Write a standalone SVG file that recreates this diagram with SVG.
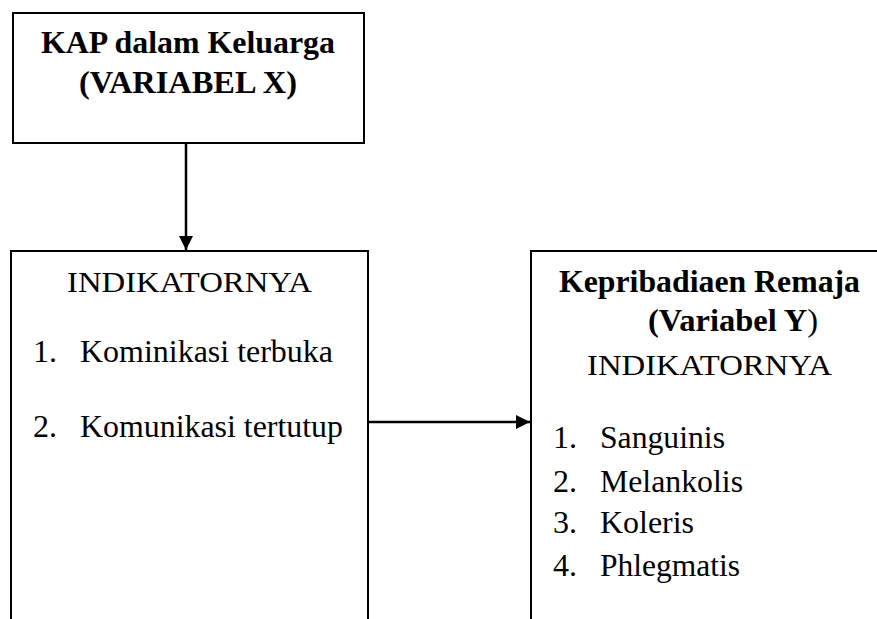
<svg xmlns="http://www.w3.org/2000/svg" width="877" height="619" viewBox="0 0 877 619">
<style>
.box{fill:#fff;stroke:#000;stroke-width:2}
text{font-family:'Liberation Serif','Times New Roman',Times,serif;fill:#000;font-size:32px}
.b{font-weight:bold}
.h{font-size:30px}
.line{stroke:#000;stroke-width:2.5;fill:none}
</style>
<defs>
<marker id="ah" viewBox="0 0 10 10" refX="10" refY="5" markerUnits="userSpaceOnUse" markerWidth="15" markerHeight="14" orient="auto">
<path d="M0,0 L10,5 L0,10 Z" fill="#000"/>
</marker>
</defs>
<rect width="877" height="619" fill="#fff"/>
<g id="connectors">
<line class="line" x1="186" y1="143" x2="186" y2="250" marker-end="url(#ah)"/>
<line class="line" x1="363" y1="422" x2="530" y2="422" marker-end="url(#ah)"/>
</g>
<g id="node-x">
<rect class="box" x="13" y="13" width="351" height="130"/>
<text class="b" x="41" y="53" textLength="294" lengthAdjust="spacingAndGlyphs">KAP dalam Keluarga</text>
<text class="b" x="79" y="93" textLength="218" lengthAdjust="spacingAndGlyphs">(VARIABEL X)</text>
</g>
<g id="node-x-indicators">
<rect class="box" x="11" y="251" width="357" height="380"/>
<text class="h" x="67" y="292" textLength="245" lengthAdjust="spacingAndGlyphs">INDIKATORNYA</text>
<text x="33" y="362">1.</text>
<text x="80" y="362" textLength="253" lengthAdjust="spacingAndGlyphs">Kominikasi terbuka</text>
<text x="33" y="437">2.</text>
<text x="80" y="437" textLength="263" lengthAdjust="spacingAndGlyphs">Komunikasi tertutup</text>
</g>
<g id="node-y">
<rect class="box" x="531" y="251" width="360" height="380"/>
<text class="b" x="559" y="292" textLength="301" lengthAdjust="spacingAndGlyphs">Kepribadiaen Remaja</text>
<text x="648" y="331" textLength="170" lengthAdjust="spacingAndGlyphs"><tspan font-weight="bold">(Variabel Y</tspan>)</text>
<text class="h" x="587" y="375" textLength="245" lengthAdjust="spacingAndGlyphs">INDIKATORNYA</text>
<text x="553" y="448">1.</text>
<text x="600" y="448" textLength="125" lengthAdjust="spacingAndGlyphs">Sanguinis</text>
<text x="553" y="492">2.</text>
<text x="600" y="492" textLength="143" lengthAdjust="spacingAndGlyphs">Melankolis</text>
<text x="553" y="533">3.</text>
<text x="600" y="533" textLength="94" lengthAdjust="spacingAndGlyphs">Koleris</text>
<text x="553" y="576">4.</text>
<text x="600" y="576" textLength="140" lengthAdjust="spacingAndGlyphs">Phlegmatis</text>
</g>
</svg>
